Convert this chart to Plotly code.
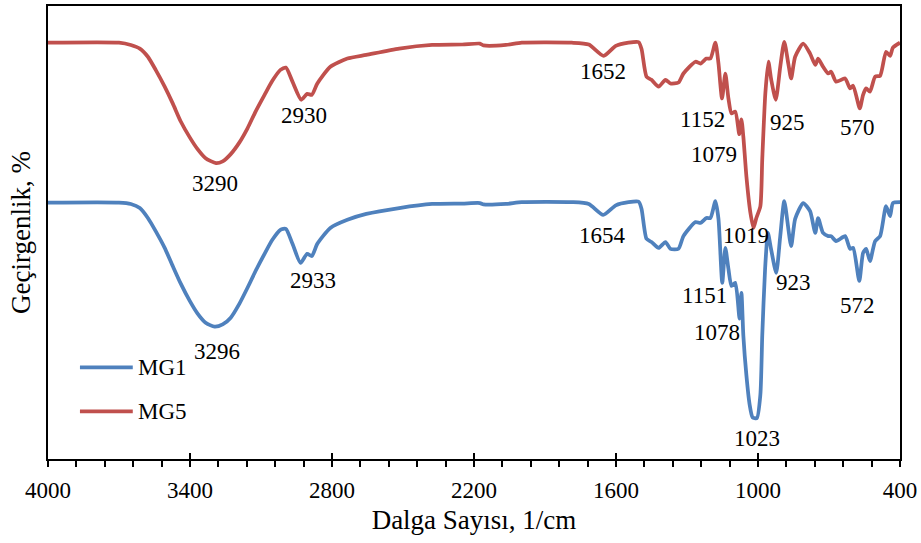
import numpy as np
import plotly.graph_objects as go

# FTIR spectra (wavenumber in 1/cm, transmittance in arbitrary offset units)
wn_mg5 = [4000, 3700, 3650, 3612, 3578, 3545, 3507, 3473, 3439, 3401, 3368, 3334,
          3290, 3262, 3228, 3191, 3157, 3123, 3085, 3052, 3018, 2995, 2967, 2930,
          2905, 2885, 2862, 2807, 2735, 2655, 2516, 2377, 2250, 2175, 2160, 2065,
          1998, 1787, 1715, 1652, 1601, 1547, 1504, 1492, 1471, 1450, 1420, 1391,
          1370, 1336, 1315, 1264, 1243, 1218, 1201, 1180, 1167, 1152, 1138, 1125,
          1112, 1096, 1079, 1070, 1062, 1049, 1032, 1019, 1007, 990, 982, 969, 956,
          944, 925, 906, 889, 872, 860, 843, 809, 780, 758, 746, 725, 703, 691, 670,
          632, 611, 598, 570, 556, 543, 527, 505, 484, 459, 442, 430, 400]
t_mg5 = [91.9, 91.9, 91.4, 90.6, 88.8, 85.9, 82.2, 78.5, 74.5, 71.0, 68.4, 66.4,
         65.3, 65.7, 67.3, 69.9, 73.0, 76.7, 80.4, 83.5, 85.9, 86.4, 83.3, 79.3,
         80.6, 80.4, 82.9, 86.6, 88.4, 89.2, 90.6, 91.4, 91.5, 91.7, 91.3, 91.4,
         91.9, 91.9, 91.5, 89.0, 91.2, 91.9, 92.0, 90.5, 84.4, 83.7, 82.2, 83.7,
         82.9, 83.1, 85.1, 87.7, 87.3, 88.4, 88.4, 91.9, 87.3, 79.6, 85.1, 79.6,
         76.3, 76.7, 71.7, 75.0, 71.2, 62.4, 54.3, 51.0, 53.2, 55.8, 66.2, 80.7,
         87.7, 83.7, 79.3, 86.6, 92.1, 87.3, 84.0, 88.8, 91.7, 89.5, 87.0, 88.4,
         86.6, 85.1, 85.5, 83.3, 84.0, 81.8, 82.4, 77.4, 80.4, 81.8, 81.1, 84.4,
         84.6, 89.9, 89.0, 90.8, 91.9]

wn_mg1 = [4000, 3700, 3650, 3612, 3578, 3545, 3507, 3473, 3439, 3401, 3368, 3334,
          3296, 3262, 3228, 3191, 3157, 3123, 3085, 3052, 3018, 2995, 2967, 2933,
          2905, 2885, 2862, 2807, 2735, 2655, 2516, 2377, 2250, 2175, 2160, 2065,
          1998, 1787, 1715, 1654, 1601, 1547, 1504, 1492, 1471, 1450, 1420, 1391,
          1370, 1336, 1315, 1264, 1243, 1218, 1201, 1180, 1167, 1151, 1138, 1125,
          1112, 1096, 1078, 1070, 1062, 1049, 1035, 1023, 1005, 990, 982, 970, 958,
          945, 923, 906, 889, 860, 843, 809, 780, 758, 746, 725, 703, 691, 670,
          632, 611, 598, 572, 556, 543, 527, 505, 484, 459, 442, 430, 400]
t_mg1 = [56.6, 56.6, 56.3, 55.4, 53.2, 50.3, 46.6, 42.6, 38.7, 34.9, 32.1, 30.1,
         29.2, 29.7, 31.2, 34.3, 37.8, 41.5, 45.3, 48.4, 50.6, 50.8, 47.5, 43.3,
         45.3, 44.8, 47.5, 51.0, 52.8, 54.1, 55.4, 56.3, 56.4, 56.5, 56.2, 56.3,
         56.7, 56.7, 56.3, 53.9, 56.0, 56.7, 56.8, 55.2, 48.6, 47.9, 46.6, 47.9,
         46.4, 46.4, 49.2, 52.3, 52.1, 53.2, 53.2, 56.9, 53.0, 38.9, 46.6, 42.0,
         38.2, 38.9, 31.0, 36.7, 27.3, 18.5, 11.9, 9.2, 9.0, 14.2, 27.3, 42.0,
         49.9, 46.4, 41.1, 49.2, 56.9, 47.0, 53.0, 56.5, 54.7, 49.9, 53.2, 49.9,
         49.2, 49.2, 48.1, 49.2, 46.4, 46.6, 39.3, 45.5, 46.4, 43.7, 48.1, 49.2,
         55.8, 53.6, 56.5, 56.7]

# labelled band positions and label offsets (px)
peaks_mg5 = [3290, 2930, 1652, 1152, 1079, 1019, 925, 570]
shift_mg5 = [(-1, -20), (3, -16), (-1, -16), (-20, -21), (-25, -20), (-8, -8), (12, -23), (-2, -19)]
peaks_mg1 = [3296, 2933, 1654, 1151, 1078, 1023, 923, 572]
shift_mg1 = [(2, -25), (12, -18), (-1, -21), (-18, -13), (-23, -14), (4, -21), (17, -10), (-2, -25)]

x_major = [4000, 3400, 2800, 2200, 1600, 1000, 400]

FONT = "Liberation Serif, Times New Roman, serif"
BLUE = "#4F81BD"
RED = "#C0504D"
LW = 3.75

series = [("MG1", wn_mg1, t_mg1, BLUE), ("MG5", wn_mg5, t_mg5, RED)]

fig = go.Figure()
for name, wn, t, col in series:
    fig.add_trace(go.Scatter(x=wn, y=t, mode="lines", name=name, showlegend=False,
                             line=dict(color=col, width=LW, shape="spline", smoothing=0.6)))
# carrier for the inner half of the major ticks
fig.add_trace(go.Scatter(x=[4000, 400], y=[None, None], xaxis="x2", showlegend=False,
                         hoverinfo="skip"))

def add_labels(peaks, shifts, wn, t):
    order = np.argsort(wn)
    xs = np.asarray(wn)[order]
    ys = np.asarray(t)[order]
    for p, (dx, dy) in zip(peaks, shifts):
        fig.add_annotation(x=p, y=float(np.interp(p, xs, ys)), text=str(p),
                           showarrow=False, xanchor="center", yanchor="middle",
                           xshift=dx, yshift=dy,
                           font=dict(family=FONT, size=23, color="black"))

add_labels(peaks_mg5, shift_mg5, wn_mg5, t_mg5)
add_labels(peaks_mg1, shift_mg1, wn_mg1, t_mg1)

# legend keys: a line swatch and the series name
legend_y = [0.202, 0.105]
for (name, _, _, col), ly in zip(series, legend_y):
    fig.add_shape(type="line", xref="paper", yref="paper", x0=0.0375, x1=0.0995,
                  y0=ly, y1=ly, line=dict(color=col, width=LW))
    fig.add_annotation(xref="paper", yref="paper", x=0.103, y=ly, text=name,
                       showarrow=False, xanchor="left", yanchor="middle",
                       font=dict(family=FONT, size=23, color="black"))

fig.update_layout(
    width=921, height=543,
    margin=dict(l=48, r=19, t=4, b=84),
    paper_bgcolor="white", plot_bgcolor="white",
    font=dict(family=FONT, size=23, color="black"),
    showlegend=False,
    xaxis=dict(range=[4000, 400], tickvals=x_major, ticktext=[str(v) for v in x_major],
               ticks="outside", ticklen=6, tickwidth=2, tickcolor="black",
               minor=dict(dtick=120, tick0=400, ticks="outside", ticklen=6,
                          tickwidth=2, tickcolor="black"),
               showline=True, linecolor="black", linewidth=2, mirror=True,
               showgrid=False, zeroline=False, ticklabelstandoff=3,
               tickfont=dict(family=FONT, size=23, color="black"),
               title=dict(text="Dalga Sayısı, 1/cm", standoff=9,
                          font=dict(family=FONT, size=27, color="black"))),
    xaxis2=dict(range=[4000, 400], overlaying="x", anchor="y", side="bottom",
                tickvals=x_major, ticks="inside", ticklen=6, tickwidth=2,
                tickcolor="black", showticklabels=False, showline=False,
                showgrid=False, zeroline=False),
    yaxis=dict(range=[0, 100], showticklabels=False, ticks="",
               showline=True, linecolor="black", linewidth=2, mirror=True,
               showgrid=False, zeroline=False,
               title=dict(text="Geçirgenlik, %", standoff=8,
                          font=dict(family=FONT, size=27, color="black"))),
)

fig.write_html("out.html")
